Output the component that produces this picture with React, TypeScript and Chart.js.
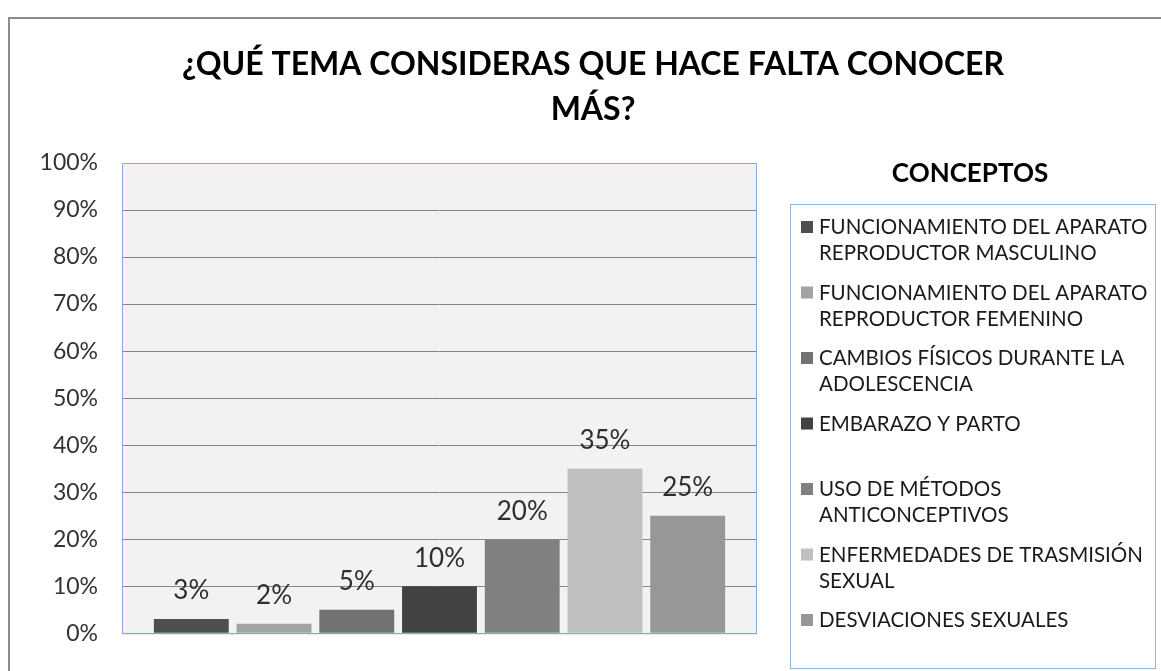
import React, { useEffect, useRef } from 'react';
import { Chart, registerables } from 'chart.js';

Chart.register(...registerables);

const TITLE_LINES = ['¿QUÉ TEMA CONSIDERAS QUE HACE FALTA CONOCER', 'MÁS?'];
const LEGEND_TITLE = 'CONCEPTOS';
const CONCEPTS: string[][] = [
  ['FUNCIONAMIENTO DEL APARATO', 'REPRODUCTOR MASCULINO'],
  ['FUNCIONAMIENTO DEL APARATO', 'REPRODUCTOR FEMENINO'],
  ['CAMBIOS FÍSICOS DURANTE LA', 'ADOLESCENCIA'],
  ['EMBARAZO Y PARTO'],
  ['USO DE MÉTODOS', 'ANTICONCEPTIVOS'],
  ['ENFERMEDADES DE TRASMISIÓN', 'SEXUAL'],
  ['DESVIACIONES SEXUALES'],
];
const VALUES = [3, 2, 5, 10, 20, 35, 25];
const COLORS = ['#4f4f4f', '#a3a3a3', '#727272', '#424242', '#808080', '#c0c0c0', '#979797'];
const Y_MIN = 0;
const Y_MAX = 100;
const Y_STEP = 10;

const FONT = 'Lato, "Open Sans", sans-serif';

const decorPlugin = {
  id: 'decor',
  beforeDraw(chart: any) {
    const { ctx, chartArea } = chart;
    ctx.save();
    ctx.fillStyle = '#ffffff';
    ctx.fillRect(0, 0, chart.width, chart.height);
    ctx.strokeStyle = '#8c8c8c';
    ctx.lineWidth = 2;
    ctx.strokeRect(9, 18, chart.width + 50, chart.height + 50);
    ctx.fillStyle = '#f2f2f2';
    ctx.fillRect(chartArea.left, chartArea.top, chartArea.right - chartArea.left, chartArea.bottom - chartArea.top);
    ctx.restore();
  },
  beforeDatasetsDraw(chart: any) {
    const { ctx, chartArea } = chart;
    ctx.save();
    ctx.strokeStyle = '#8eaadb';
    ctx.lineWidth = 1;
    ctx.strokeRect(chartArea.left + 0.5, chartArea.top + 0.5, chartArea.right - chartArea.left - 1, chartArea.bottom - chartArea.top);
    ctx.restore();
  },
  afterDatasetsDraw(chart: any) {
    const { ctx } = chart;
    ctx.save();
    const fs = 26;
    ctx.font = `${fs}px ${FONT}`;
    ctx.fillStyle = '#2e2e2e';
    ctx.textAlign = 'center';
    ctx.textBaseline = 'alphabetic';
    chart.data.datasets.forEach((ds: any, i: number) => {
      const meta = chart.getDatasetMeta(i);
      const el = meta.data[0];
      if (!el) return;
      ctx.fillText(`${ds.data[0]}%`, el.x, el.y - 29 + 0.36 * fs);
    });
    ctx.restore();
  },
  afterDraw(chart: any) {
    const { ctx } = chart;
    ctx.save();
    // Title
    const tfs = 32;
    ctx.font = `bold ${tfs}px ${FONT}`;
    ctx.fillStyle = '#000000';
    ctx.textAlign = 'center';
    ctx.textBaseline = 'alphabetic';
    ctx.fillText(TITLE_LINES[0], 593, 75);
    ctx.fillText(TITLE_LINES[1], 593, 120);

    // Legend title
    const lfs = 26;
    ctx.font = `bold ${lfs}px ${FONT}`;
    ctx.fillText(LEGEND_TITLE, 970, 173 + 0.36 * lfs);

    // Legend box
    ctx.strokeStyle = '#95b3d7';
    ctx.lineWidth = 1;
    ctx.strokeRect(790.5, 204.5, 365, 464);

    // Legend items
    const ifs = 20.5;
    ctx.font = `${ifs}px ${FONT}`;
    ctx.textAlign = 'left';
    const startY = 227;
    const stepY = 65.5;
    const lineH = 26;
    chart.data.datasets.forEach((ds: any, i: number) => {
      const cy = startY + i * stepY;
      ctx.fillStyle = ds.backgroundColor;
      ctx.fillRect(801, cy - 6, 12, 12);
      ctx.fillStyle = '#1a1a1a';
      CONCEPTS[i].forEach((line, j) => {
        ctx.fillText(line, 819, cy + j * lineH + 0.36 * ifs);
      });
    });
    ctx.restore();
  },
};

export default function App() {
  const canvasRef = useRef<HTMLCanvasElement | null>(null);

  useEffect(() => {
    if (!canvasRef.current) return;
    const chart = new Chart(canvasRef.current, {
      type: 'bar',
      data: {
        labels: [''],
        datasets: CONCEPTS.map((c, i) => ({
          label: c.join(' '),
          data: [VALUES[i]],
          backgroundColor: COLORS[i],
          borderWidth: 0,
          categoryPercentage: 0.912,
          barPercentage: 0.905,
        })),
      },
      options: {
        responsive: false,
        animation: false,
        devicePixelRatio: 1,
        layout: { padding: { left: 0, top: 163, right: 404, bottom: 17 } },
        scales: {
          x: { display: false },
          y: {
            min: Y_MIN,
            max: Y_MAX,
            afterFit: (s: any) => {
              s.width = 122;
            },
            border: { display: false },
            grid: { color: '#868686', lineWidth: 1, drawTicks: false },
            ticks: {
              stepSize: Y_STEP,
              padding: 24,
              color: '#333333',
              font: { family: FONT, size: 23 },
              callback: (v: any) => `${v}%`,
            },
          },
        },
        plugins: {
          legend: { display: false },
          title: { display: false },
          tooltip: { enabled: false },
        },
      },
      plugins: [decorPlugin],
    });
    return () => chart.destroy();
  }, []);

  return (
    <div style={{ position: 'fixed', left: 0, top: 0, width: 1161, height: 671, background: '#fff' }}>
      <canvas ref={canvasRef} width={1161} height={671} style={{ display: 'block' }} />
    </div>
  );
}
